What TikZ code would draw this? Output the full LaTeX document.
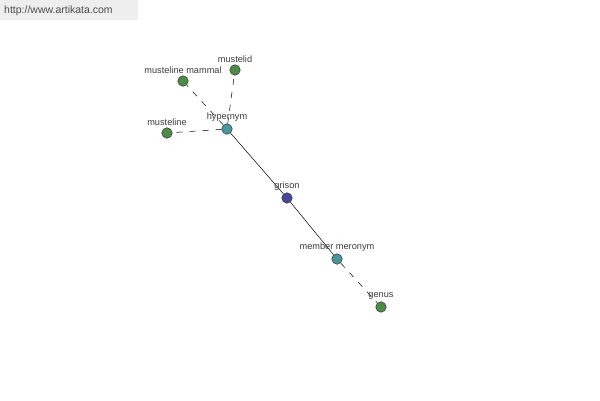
\documentclass[tikz,border=0pt]{standalone}
\usepackage{fontspec}
\setmainfont{Liberation Sans}
\usetikzlibrary{positioning}
\definecolor{leafcolor}{RGB}{76, 140, 70}
\definecolor{relcolor}{RGB}{72, 150, 158}
\definecolor{wordcolor}{RGB}{70, 72, 160}
\definecolor{labelgray}{RGB}{60, 60, 60}
\definecolor{bannergray}{RGB}{238, 238, 238}

\begin{document}
\begin{tikzpicture}[x=1pt, y=-1pt,
  dot/.style={circle, draw=black!80, line width=0.5pt, inner sep=0pt, minimum size=10.5pt},
  leaf/.style={dot, fill=leafcolor},
  rel/.style={dot, fill=relcolor},
  word/.style={dot, fill=wordcolor},
  tag/.style={font=\fontsize{9.2}{11}\selectfont, text=labelgray, inner sep=1pt},
  link/.style={black, line width=0.5pt},
  dlink/.style={black, line width=0.5pt, dash pattern=on 6pt off 7pt}]

  \useasboundingbox (0,0) rectangle (600,400);
  \fill[white] (0,0) rectangle (600,400);

  % ---------- banner ----------
  \fill[bannergray] (0,0) rectangle (138,20);
  \node[font=\fontsize{10.5}{12}\selectfont, text=black!70, anchor=west, inner sep=0pt] (site) at (4,11) {http://www.artikata.com};

  % ---------- nodes ----------
  \node[rel]  (hyper)  at (227,129) {};
  \node[leaf] (mammal) at (183,81)  {};
  \node[leaf] (mustd)  at (235,70)  {};
  \node[leaf] (mustl)  at (167,133) {};
  \node[word] (grison) at (287,198) {};
  \node[rel]  (member) at (337,259) {};
  \node[leaf] (genus)  at (381,307) {};

  % ---------- connectors ----------
  \draw[dlink] (hyper) -- (mammal);
  \draw[dlink] (hyper) -- (mustd);
  \draw[dlink] (hyper) -- (mustl);
  \draw[link] (hyper) -- (grison);
  \draw[link] (grison) -- (member);
  \draw[dlink] (member) -- (genus);

  % ---------- labels ----------
  \node[tag, above=0.5pt of mammal] (mammaltag) {musteline mammal};
  \node[tag, above=0.5pt of mustd]  (mustdtag)  {mustelid};
  \node[tag, above=0.5pt of mustl]  (mustltag)  {musteline};
  \node[tag, above=0.5pt of hyper]  (hypertag)  {hypernym};
  \node[tag, above=0.5pt of grison] (grisontag) {grison};
  \node[tag, above=0.5pt of member] (membertag) {member meronym};
  \node[tag, above=0.5pt of genus]  (genustag)  {genus};

\end{tikzpicture}
\end{document}
